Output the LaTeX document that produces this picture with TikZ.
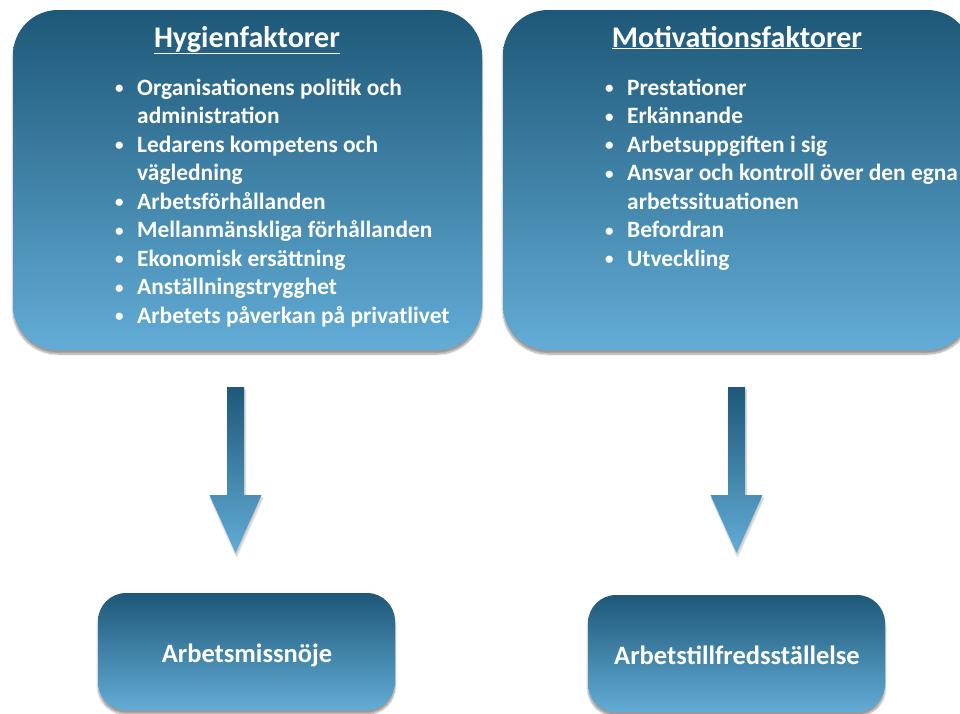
\documentclass[tikz,border=0pt]{standalone}
\usepackage{fontspec}
\setmainfont{Carlito}
\usetikzlibrary{shadows,shadows.blur}
\definecolor{topc}{RGB}{30,88,120}
\definecolor{botc}{RGB}{98,172,214}
\tikzset{
  panel/.style={rounded corners=45pt, top color=topc, bottom color=botc, draw=none,
    blur shadow={shadow xshift=0pt, shadow yshift=-4pt, shadow blur steps=8, shadow opacity=40},
    inner sep=0pt, minimum width=469pt, minimum height=340pt},
  resbox/.style={rounded corners=28pt, top color=topc, bottom color=botc, draw=none,
    blur shadow={shadow xshift=0pt, shadow yshift=-4pt, shadow blur steps=8, shadow opacity=40},
    inner sep=0pt, minimum width=297pt, minimum height=117pt},
  blockarrow/.style={top color=topc, bottom color=botc, draw=none,
    blur shadow={shadow xshift=1pt, shadow yshift=-3pt, shadow blur steps=6, shadow opacity=25}},
  ttl/.style={text=white, font=\fontsize{30}{34}\selectfont\bfseries, inner sep=0pt, anchor=base},
  lst/.style={text=white, font=\fontsize{23.4}{28.5}\selectfont\bfseries, inner sep=0pt, anchor=north west},
  restxt/.style={text=white, font=\fontsize{26.5}{30}\selectfont\bfseries, inner sep=0pt, anchor=base}
}
\newcommand{\bl}{\makebox[24pt][l]{\hspace{2pt}\raisebox{1.5pt}{\fontsize{17}{17}\selectfont\textbullet}}}
\begin{document}
\begin{tikzpicture}[x=1pt,y=-1pt]
\useasboundingbox (0,0) rectangle (960,713);
% top panels
\node[panel] (hyg) at (247.5,180) {};
\node[panel] (mot) at (737.5,180) {};
\node[ttl] (hygt) at (247,47) {\underline{Hygienfaktorer}};
\node[ttl] (mott) at (737,47) {\underline{Motivationsfaktorer}};
\node[lst] (hygl) at (113,75) {\begin{tabular}{@{}l@{}l@{}}
\bl & Organisationens politik och\\
 & administration\\
\bl & Ledarens kompetens och\\
 & vägledning\\
\bl & Arbetsförhållanden\\
\bl & Mellanmänskliga förhållanden\\
\bl & Ekonomisk ersättning\\
\bl & Anställningstrygghet\\
\bl & Arbetets påverkan på privatlivet
\end{tabular}};
\node[lst] (motl) at (603,75) {\begin{tabular}{@{}l@{}l@{}}
\bl & Prestationer\\
\bl & Erkännande\\
\bl & Arbetsuppgiften i sig\\
\bl & Ansvar och kontroll över den egna\\
 & arbetssituationen\\
\bl & Befordran\\
\bl & Utveckling
\end{tabular}};
% bottom boxes
\node[resbox] (miss) at (246.5,651.5) {};
\node[resbox] (tillf) at (736.5,653.5) {};
\node[restxt] (misst) at (247,662) {Arbetsmissnöje};
\node[restxt] (tillft) at (737,664) {Arbetstillfredsställelse};
% block arrows
\coordinate (a1) at (235.5,387);
\coordinate (a2) at (736.5,387);
\path[blockarrow] (a1) ++(-8.5,0) -- ++(17,0) -- ++(0,108) -- ++(17.5,0) -- ++(-26,58) -- ++(-26,-58) -- ++(17.5,0) -- cycle;
\path[blockarrow] (a2) ++(-8.5,0) -- ++(17,0) -- ++(0,108) -- ++(17.5,0) -- ++(-26,58) -- ++(-26,-58) -- ++(17.5,0) -- cycle;
\end{tikzpicture}
\end{document}
